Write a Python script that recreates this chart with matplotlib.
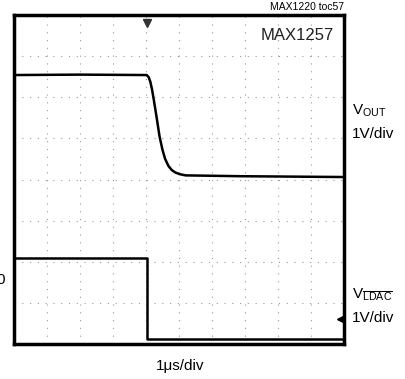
import matplotlib.pyplot as plt

# scope traces, in divisions (x: 10 div at 1us/div, y: 8 div)
vout_t = [0.0, 2.0, 4.02, 4.08, 4.13, 4.18, 4.24, 4.32, 4.41, 4.50, 4.58,
          4.68, 4.78, 4.89, 5.02, 5.20, 6.87, 10.0]
vout_v = [6.54, 6.55, 6.54, 6.49, 6.38, 6.20, 5.92, 5.52, 5.05, 4.72, 4.50,
          4.33, 4.23, 4.17, 4.13, 4.10, 4.08, 4.06]

ldac_t = [0.0, 4.03, 4.03, 10.0]
ldac_v = [2.09, 2.09, 0.12, 0.12]

FONT = ['Liberation Sans Narrow', 'Liberation Sans', 'DejaVu Sans']
plt.rcParams['font.family'] = FONT

fig = plt.figure(figsize=(4.06, 3.79), dpi=100)
ax = fig.add_axes([14 / 406, 35 / 379, 330 / 406, 329 / 379])
ax.set_xlim(0, 10)
ax.set_ylim(0, 8)

# dotted graticule
for gx in range(1, 10):
    ax.axvline(gx, color='#9a9a9a', lw=0.8, ls=(0, (1, 6)))
for gy in range(1, 8):
    ax.axhline(gy, color='#9a9a9a', lw=0.8, ls=(0, (1, 6)))

ax.plot(vout_t, vout_v, color='black', lw=1.8, solid_joinstyle='round')
ax.plot(ldac_t, ldac_v, color='black', lw=1.8)

# trigger and ground markers
ax.plot([4.03], [7.8], marker='v', color='#333333', ms=6, clip_on=False)
ax.plot([9.88], [0.6], marker='<', color='black', ms=4, clip_on=False)

ax.set_xticks([])
ax.set_yticks([])
for s in ax.spines.values():
    s.set_linewidth(2.5)
    s.set_color('black')

ax.text(9.7, 7.5, 'MAX1257', ha='right', va='center', fontsize=12, color='#222222')

fig.text(344 / 406, 372 / 379, 'MAX1220 toc57', ha='right', va='center', fontsize=7.5)
fig.text(352 / 406, 268 / 379, r'V$_{\mathregular{OUT}}$', ha='left', va='center', fontsize=11)
fig.text(352 / 406, 245 / 379, '1V/div', ha='left', va='center', fontsize=11)
fig.text(352 / 406, 84 / 379, r'V$_{\mathregular{\overline{LDAC}}}$', ha='left', va='center', fontsize=11)
fig.text(352 / 406, 61 / 379, '1V/div', ha='left', va='center', fontsize=11)
fig.text(180 / 406, 13 / 379, '1μs/div', ha='center', va='center', fontsize=11)
fig.text(-4 / 406, 99 / 379, '0', ha='left', va='center', fontsize=11)

fig.savefig('out.png', dpi=100)
